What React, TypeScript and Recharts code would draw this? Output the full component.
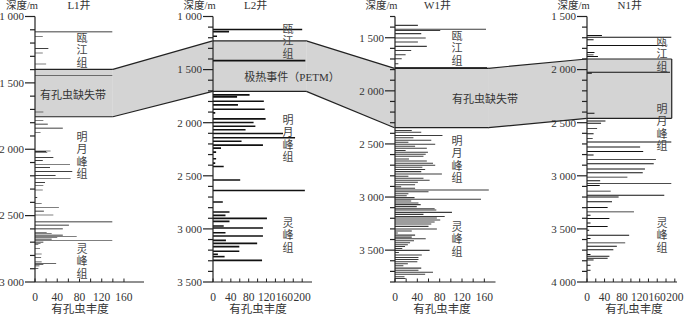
import React from "react";
import { ComposedChart, Bar, XAxis, YAxis, ReferenceArea, ReferenceLine } from "recharts";

const SERIF = '"Liberation Serif", "Noto Sans CJK SC", serif';
const INK = "#222";
const BAND = "#d4d4d4";

// L1井 depth (m) / foraminifera abundance
const l1Depth = [1116, 1151, 1242, 1275, 1358, 1443, 1720, 1786, 1811, 1841, 1874, 2013, 2018, 2025, 2063, 2086, 2113, 2139, 2169, 2199, 2222, 2252, 2275, 2307, 2365, 2411, 2441, 2466, 2496, 2547, 2572, 2600, 2627, 2637, 2647, 2657, 2667, 2677, 2690, 2700, 2710, 2720, 2748, 2789, 2814, 2849, 2862, 2869, 2879, 2899];
const l1Count = [139, 14, 24, 14, 20, 139, 15, 15, 23, 50, 10, 28, 20, 22, 33, 14, 63, 27, 67, 37, 64, 18, 15, 14, 4, 12, 43, 16, 33, 139, 61, 50, 21, 30, 50, 75, 40, 30, 139, 15, 10, 6, 9, 12, 11, 12, 38, 15, 8, 6];

// L2井
const l2Depth = [1125, 1144, 1188, 1417, 1740, 1759, 1800, 1834, 1875, 1909, 1966, 2000, 2035, 2069, 2104, 2144, 2176, 2213, 2241, 2279, 2342, 2383, 2414, 2542, 2640, 2749, 2843, 2875, 2903, 2931, 2975, 2994, 3038, 3069, 3110, 3138, 3169, 3213, 3241, 3263, 3298];
const l2Count = [200, 36, 9, 207, 82, 54, 114, 56, 116, 5, 118, 91, 95, 73, 157, 184, 64, 112, 18, 7, 7, 5, 24, 61, 206, 22, 37, 28, 121, 37, 24, 112, 28, 112, 29, 99, 59, 59, 11, 26, 110];

// W1井
const w1Depth = [1384, 1421, 1432, 1462, 1503, 1541, 1582, 1620, 1660, 1698, 1745, 1780, 2374, 2390, 2421, 2443, 2465, 2484, 2503, 2522, 2541, 2563, 2579, 2598, 2616, 2642, 2661, 2683, 2701, 2720, 2742, 2761, 2783, 2805, 2824, 2843, 2862, 2884, 2903, 2918, 2934, 2950, 2969, 2988, 3006, 3022, 3038, 3057, 3072, 3091, 3110, 3123, 3145, 3164, 3183, 3198, 3217, 3236, 3255, 3277, 3302, 3321, 3340, 3359, 3378, 3393, 3412, 3431, 3450, 3466, 3485, 3503, 3522, 3547, 3569, 3588, 3610, 3629, 3648, 3670, 3689, 3708, 3727, 3752, 3767];
const w1Count = [41, 163, 81, 47, 55, 41, 57, 29, 19, 12, 6, 165, 30, 47, 85, 33, 65, 24, 72, 36, 57, 19, 59, 55, 51, 25, 57, 68, 72, 49, 54, 47, 84, 24, 51, 62, 41, 36, 11, 36, 168, 60, 24, 21, 35, 154, 29, 42, 46, 39, 71, 74, 102, 51, 89, 75, 81, 71, 65, 60, 75, 30, 5, 36, 30, 55, 34, 27, 23, 18, 13, 62, 7, 48, 42, 42, 40, 23, 15, 47, 42, 68, 54, 17, 19];

// N1井
const n1Depth = [1679, 1695, 1720, 1774, 1840, 1862, 1877, 2025, 2035, 2412, 2484, 2506, 2554, 2604, 2648, 2683, 2730, 2771, 2805, 2846, 2887, 2937, 2972, 3013, 3047, 3072, 3091, 3145, 3183, 3201, 3245, 3299, 3340, 3371, 3403, 3444, 3478, 3513, 3560, 3591, 3632, 3664, 3696, 3742, 3758, 3777, 3793, 3843, 3890];
const n1Count = [34, 192, 15, 179, 17, 15, 25, 189, 11, 17, 42, 32, 23, 15, 13, 192, 121, 128, 15, 157, 152, 132, 127, 92, 30, 192, 29, 54, 176, 72, 57, 47, 107, 8, 51, 8, 47, 5, 96, 8, 87, 68, 60, 8, 51, 47, 15, 8, 8];

const wells = ["L1井", "L2井", "W1井", "N1井"];
const depths = [l1Depth, l2Depth, w1Depth, n1Depth];
const counts = [l1Count, l2Count, w1Count, n1Count];
const yDomains = [[1000, 3000], [1000, 3500], [1300, 3800], [1500, 4000]];
const xMax = [196, 222, 180, 205];
const xTickMax = [160, 200, 160, 200];

// shaded zone (missing foraminifera / PETM)
const bandTop = [1398, 1230, 1788, 1900];
const bandBottom = [1755, 1705, 2347, 2459];
const bandEnd = [140, 210, 168, 193];
const bandText = ["有孔虫缺失带", "极热事件（PETM）", "有孔虫缺失带", ""];

const formations = ["瓯江组", "明月峰组", "灵峰组"];

// layout
const H = 315;
const TOP = 16.5;
const XH = 33;
const PLOT_H = H - TOP - XH;
const YW = 40;
const RM = 12;
const AXIS_X = [35, 212.7, 394.5, 586.7];
const PLOT_W = [109, 99, 100.5, 90];
const BAR_SIZE = [1.5, 1.6, 2, 1.6];
const BAR_FILL = ["#000", "#111", "#3c3c3c", "#111"];
const FORM_X = [82, 288, 457, 662];
const FORM_Y = [[38, 137, 249], [29, 120, 223], [36, 141, 227], [42, 109, 223]];
const BAND_TEXT_POS = [[73, 95], [292, 77], [485, 99]];
const XTITLE_X = [80, 258, 442, 634];

const fmtDepth = (v: number) => `${Math.floor(v / 1000)} ${String(v % 1000).padStart(3, "0")}`;

const steps = (a: number, b: number, s: number) => {
  const out: number[] = [];
  for (let v = a; v <= b; v += s) out.push(v);
  return out;
};

const yPix = (i: number, d: number) => TOP + ((d - yDomains[i][0]) / (yDomains[i][1] - yDomains[i][0])) * PLOT_H;
const xPix = (i: number, v: number) => AXIS_X[i] + (v / xMax[i]) * PLOT_W[i];

const YTick = (props: any) => {
  const { x, y, payload } = props;
  const v = payload.value as number;
  const major = v % 500 === 0;
  return (
    <g>
      <line x1={x - (major ? 10 : 5)} x2={x} y1={y} y2={y} stroke={INK} strokeWidth={1.2} />
      {major && (
        <text x={x - 11} y={y} dy={3.8} textAnchor="end" fontSize={11} fontFamily={SERIF} fill="#333">
          {fmtDepth(v)}
        </text>
      )}
    </g>
  );
};

const XTick = (props: any) => {
  const { x, y, payload } = props;
  const v = payload.value as number;
  return (
    <g>
      <line x1={x} x2={x} y1={y} y2={y - 3.5} stroke={INK} />
      {v % 40 === 0 && (
        <text x={x} y={y + 19} textAnchor="middle" fontSize={11.5} fontFamily={SERIF} fill="#333">
          {v}
        </text>
      )}
    </g>
  );
};

const Panel = ({ i }: { i: number }) => {
  const data = depths[i].map((d, k) => ({ depth: d, count: counts[i][k] }));
  const [y0, y1] = yDomains[i];
  return (
    <div style={{ position: "absolute", left: AXIS_X[i] - YW, top: 0 }}>
      <ComposedChart
        width={YW + PLOT_W[i] + RM}
        height={H}
        layout="vertical"
        data={data}
        margin={{ top: TOP, right: RM, bottom: 0, left: 0 }}
      >
        <XAxis
          type="number"
          domain={[0, xMax[i]]}
          ticks={steps(0, xTickMax[i], 20)}
          interval={0}
          allowDataOverflow
          height={XH}
          tickSize={0}
          tickMargin={0}
          tickLine={false}
          axisLine={{ stroke: INK, strokeWidth: 1.2 }}
          tick={<XTick />}
        />
        <YAxis
          type="number"
          dataKey="depth"
          domain={[y0, y1]}
          ticks={steps(y0, y1, 100)}
          interval={0}
          allowDataOverflow
          width={YW}
          tickSize={0}
          tickMargin={0}
          tickLine={false}
          axisLine={{ stroke: INK, strokeWidth: 1.2 }}
          tick={<YTick />}
        />
        <ReferenceArea x1={0} x2={bandEnd[i]} y1={bandTop[i]} y2={bandBottom[i]} fill={BAND} fillOpacity={1} stroke="none" />
        <ReferenceLine segment={[{ x: 0, y: bandTop[i] }, { x: bandEnd[i], y: bandTop[i] }]} stroke={INK} strokeWidth={1.2} />
        <ReferenceLine segment={[{ x: 0, y: bandBottom[i] }, { x: bandEnd[i], y: bandBottom[i] }]} stroke={INK} strokeWidth={1.2} />
        {i === 3 && (
          <ReferenceLine segment={[{ x: bandEnd[i], y: bandTop[i] }, { x: bandEnd[i], y: bandBottom[i] }]} stroke={INK} strokeWidth={1.2} />
        )}
        <Bar dataKey="count" fill={BAR_FILL[i]} barSize={BAR_SIZE[i]} isAnimationActive={false} />
      </ComposedChart>
    </div>
  );
};

const Connectors = () => (
  <svg width={700} height={H} style={{ position: "absolute", left: 0, top: 0 }}>
    {[0, 1, 2].map((i) => {
      const xa = xPix(i, bandEnd[i]);
      const xb = AXIS_X[i + 1];
      const t1 = yPix(i, bandTop[i]);
      const b1 = yPix(i, bandBottom[i]);
      const t2 = yPix(i + 1, bandTop[i + 1]);
      const b2 = yPix(i + 1, bandBottom[i + 1]);
      return (
        <g key={i}>
          <polygon points={`${xa},${t1} ${xb},${t2} ${xb},${b2} ${xa},${b1}`} fill={BAND} />
          <line x1={xa} y1={t1} x2={xb} y2={t2} stroke={INK} strokeWidth={1.2} />
          <line x1={xa} y1={b1} x2={xb} y2={b2} stroke={INK} strokeWidth={1.2} />
        </g>
      );
    })}
  </svg>
);

const Labels = () => (
  <svg width={700} height={H} style={{ position: "absolute", left: 0, top: 0, pointerEvents: "none" }}>
    {wells.map((w, i) => (
      <g key={w} fontFamily={SERIF} fill="#333">
        <text x={AXIS_X[i] + 3} y={9} textAnchor="end" fontSize={10.5}>
          深度/m
        </text>
        <text x={AXIS_X[i] + (i === 0 ? 44 : 43)} y={9} textAnchor="middle" fontSize={11}>
          {w}
        </text>
        <text x={XTITLE_X[i]} y={313} textAnchor="middle" fontSize={11.5}>
          有孔虫丰度
        </text>
        {formations.map((f, k) =>
          f.split("").map((ch, c) => (
            <text key={`${k}-${c}`} x={FORM_X[i]} y={FORM_Y[i][k] + c * 12.3 + 4} textAnchor="middle" fontSize={11} fill="#444">
              {ch}
            </text>
          ))
        )}
        {bandText[i] && (
          <text x={BAND_TEXT_POS[i][0]} y={BAND_TEXT_POS[i][1] + 4} textAnchor="middle" fontSize={11} fill="#333">
            {bandText[i]}
          </text>
        )}
      </g>
    ))}
  </svg>
);

export default function App() {
  return (
    <div style={{ position: "absolute", left: 0, top: 0, width: 700, height: H, background: "#fff", overflow: "hidden" }}>
      <Connectors />
      {wells.map((w, i) => (
        <Panel key={w} i={i} />
      ))}
      <Labels />
    </div>
  );
}
